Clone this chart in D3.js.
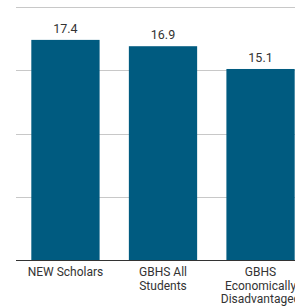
<!DOCTYPE html>
<html><head><meta charset="utf-8">
<script src="https://cdn.jsdelivr.net/npm/d3@7"></script>
<style>body{margin:0;background:#fff;}svg{display:block;font-family:Roboto,sans-serif;}</style>
</head><body>
<svg id="c" width="295" height="306"></svg>
<script>
const categories = ["NEW Scholars", "GBHS All Students", "GBHS Economically Disadvantaged"];
const values = [17.4, 16.9, 15.1];
const valueLabels = ["17.4", "16.9", "15.1"];
const gridTicks = [5, 10, 15, 20];

const svg = d3.select("#c");
const y0 = 260, yTop = 7, xLeft = 16, xRight = 310;
const y = d3.scaleLinear().domain([0, 20]).range([y0, yTop]);
const x = d3.scaleBand().domain(categories).range([xLeft, xRight]).paddingInner(0.3).paddingOuter(0.157);

svg.append("g").selectAll("line").data(gridTicks).join("line")
  .attr("x1", xLeft).attr("x2", 295)
  .attr("y1", d => Math.round(y(d)) + 0.5).attr("y2", d => Math.round(y(d)) + 0.5)
  .attr("stroke", "#c8c8c8").attr("stroke-width", 1);

svg.append("g").selectAll("rect").data(values).join("rect")
  .attr("x", (d, i) => x(categories[i]))
  .attr("width", x.bandwidth())
  .attr("y", d => y(d))
  .attr("height", d => y0 - y(d))
  .attr("fill", "#005b80");

svg.append("line").attr("x1", xLeft).attr("x2", 295).attr("y1", y0 + 0.5).attr("y2", y0 + 0.5)
  .attr("stroke", "#333").attr("stroke-width", 1);

svg.append("g").selectAll("text").data(values).join("text")
  .attr("x", (d, i) => x(categories[i]) + x.bandwidth() / 2)
  .attr("y", d => y(d) - 7)
  .attr("text-anchor", "middle")
  .attr("font-size", 12.5)
  .attr("fill", "#333")
  .text((d, i) => valueLabels[i]);

const labels = svg.append("g").selectAll("text").data(categories).join("text")
  .attr("x", d => x(d) + x.bandwidth() / 2)
  .attr("y", 276)
  .attr("text-anchor", "middle")
  .attr("font-size", 12)
  .attr("fill", "#333");

labels.each(function(d) {
  const t = d3.select(this);
  const words = d.split(" ");
  const maxW = 90;
  let line = [], lines = [];
  const tmp = t.append("tspan");
  words.forEach(w => {
    const test = line.concat([w]).join(" ");
    tmp.text(test);
    if (tmp.node().getComputedTextLength() > maxW && line.length) {
      lines.push(line.join(" "));
      line = [w];
    } else line.push(w);
  });
  lines.push(line.join(" "));
  tmp.remove();
  const cx = t.attr("x");
  lines.forEach((l, i) => {
    t.append("tspan").attr("x", cx).attr("dy", i === 0 ? 0 : 13.5).text(l);
  });
});
</script>
</body></html>
